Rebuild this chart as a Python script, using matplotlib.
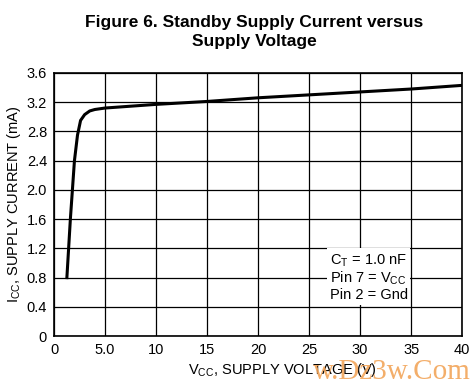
import numpy as np
import matplotlib
matplotlib.use("Agg")
import matplotlib.pyplot as plt
from matplotlib import font_manager

# ---------- data ----------
vcc = [1.25, 1.6, 2.0, 2.3, 2.6, 3.0, 3.5, 4.0, 5.0, 10, 15, 20, 25, 30, 35, 40]
icc = [0.78, 1.6, 2.4, 2.75, 2.95, 3.03, 3.08, 3.10, 3.12, 3.17, 3.21, 3.26, 3.30, 3.34, 3.38, 3.43]

x_ticks = [0, 5, 10, 15, 20, 25, 30, 35, 40]
x_labels = ["0", "5.0", "10", "15", "20", "25", "30", "35", "40"]
y_ticks = [0, 0.4, 0.8, 1.2, 1.6, 2.0, 2.4, 2.8, 3.2, 3.6]
y_labels = ["0", "0.4", "0.8", "1.2", "1.6", "2.0", "2.4", "2.8", "3.2", "3.6"]

# narrow Arial-like font if it exists
names = {f.name for f in font_manager.fontManager.ttflist}
narrow = "Liberation Sans Narrow" if "Liberation Sans Narrow" in names else "Liberation Sans"
plt.rcParams["font.family"] = [narrow, "DejaVu Sans"]
plt.rcParams["mathtext.fontset"] = "custom"
plt.rcParams["mathtext.rm"] = narrow

fig = plt.figure(figsize=(4.74, 3.9), dpi=100)
ax = fig.add_axes([0.114, 0.138, 0.861, 0.675])

ax.plot(vcc, icc, color="black", lw=2.2, solid_capstyle="butt", zorder=3)

ax.set_xlim(0, 40)
ax.set_ylim(0, 3.6)
ax.set_xticks(x_ticks)
ax.set_xticklabels(x_labels)
ax.set_yticks(y_ticks)
ax.set_yticklabels(y_labels)
ax.tick_params(length=0, labelsize=10.5, pad=5)
ax.grid(True, color="black", lw=0.9)
for s in ax.spines.values():
    s.set_linewidth(1.2)

ax.set_xlabel(r"V$_{\rm CC}$, SUPPLY VOLTAGE (V)", fontsize=10.5, labelpad=3, x=0.56)
ax.set_ylabel(r"I$_{\rm CC}$, SUPPLY CURRENT (mA)", fontsize=10.5, labelpad=3)

ax.text(27, 0.47, "C$_{\\rm T}$ = 1.0 nF\nPin 7 = V$_{\\rm CC}$\nPin 2 = Gnd",
        fontsize=10.5, ha="left", va="bottom", linespacing=1.05, zorder=4,
        bbox=dict(facecolor="white", edgecolor="none", pad=2))

fig.text(0.537, 0.918, "Figure 6. Standby Supply Current versus\nSupply Voltage",
         ha="center", va="center", fontsize=12.5, fontweight="bold",
         family=["Liberation Sans", "DejaVu Sans"], linespacing=1.4)

# watermark from the source image
fig.text(0.993, 0.045, "w.Dz3w.Com", ha="right", va="center", fontsize=21,
         color="#f2a55a", family=["Liberation Serif", "DejaVu Serif"], alpha=0.9)

fig.savefig("out.png", dpi=100)
